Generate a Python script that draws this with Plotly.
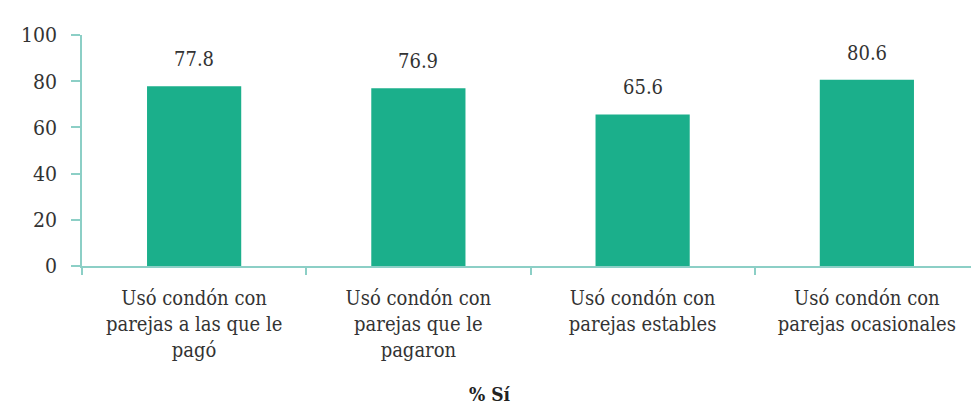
import plotly.graph_objects as go

categories = [
    "Usó condón con<br>parejas a las que le<br>pagó",
    "Usó condón con<br>parejas que le<br>pagaron",
    "Usó condón con<br>parejas estables",
    "Usó condón con<br>parejas ocasionales",
]
values = [77.8, 76.9, 65.6, 80.6]
value_labels = ["77.8", "76.9", "65.6", "80.6"]
y_ticks = [0, 20, 40, 60, 80, 100]

bar_color = "#1BAF8B"
axis_color = "#8CCFC6"
font_family = "DejaVu Serif Condensed, DejaVu Serif"

fig = go.Figure()
fig.add_trace(go.Bar(
    x=categories, y=values, marker_color=bar_color, width=0.42,
    marker_line_width=0,
))

for c, v, t in zip(categories, values, value_labels):
    fig.add_annotation(x=c, y=v, text=t, showarrow=False, yanchor="bottom",
                       yshift=13, font=dict(size=20, color="#333333", family=font_family))

fig.add_annotation(x=0.455, y=-0.555, xref="paper", yref="paper", text="<b>% Sí</b>",
                   showarrow=False, yanchor="middle",
                   font=dict(size=19, color="#222222", family=font_family))

fig.update_layout(
    width=971, height=398,
    margin=dict(l=74, r=0, t=27, b=140),
    paper_bgcolor="white", plot_bgcolor="white",
    showlegend=False,
    font=dict(family=font_family, color="#333333", size=20),
)
fig.update_yaxes(
    range=[0, 100], tickvals=y_ticks, showgrid=False, zeroline=False,
    showline=True, linecolor=axis_color, linewidth=1.5,
    ticks="outside", ticklen=9, tickcolor=axis_color, tickwidth=1.5,
    tickfont=dict(size=21, color="#333333", family=font_family), ticklabelstandoff=10,
)
fig.update_xaxes(
    showgrid=False, showline=True, linecolor=axis_color, linewidth=1.5,
    ticks="outside", ticklen=7, tickcolor=axis_color, tickwidth=1.5,
    tickson="boundaries", tickfont=dict(size=20, color="#333333", family=font_family),
    ticklabelstandoff=13,
)

fig.write_html("out.html")
